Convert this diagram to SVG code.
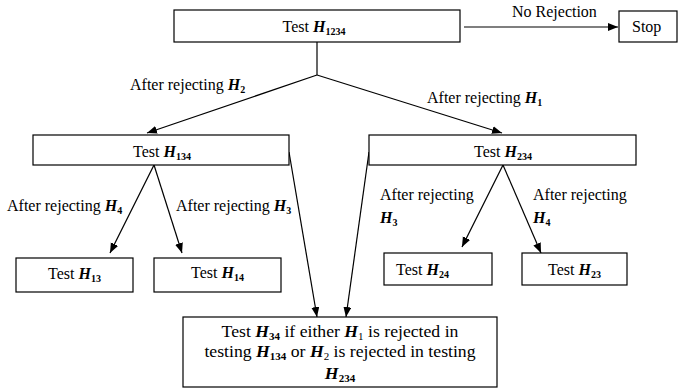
<svg xmlns="http://www.w3.org/2000/svg" width="679" height="389" viewBox="0 0 679 389">
  <style>
    text { font-family: "Liberation Serif", "Times New Roman", serif; font-size: 16px; fill: #000; }
    .c { text-anchor: middle; }
    .h { font-weight: bold; font-style: italic; }
    .s { font-weight: bold; font-size: 10px; }
    .big { font-size: 17.7px; }
    .big .s, .big .n { font-size: 11px; }
    .box { fill: #fff; stroke: #000; stroke-width: 1.2; }
    .ln { fill: none; stroke: #000; stroke-width: 1.2; }
  </style>
  <defs>
    <marker id="arrow" markerUnits="userSpaceOnUse" markerWidth="11" markerHeight="9" refX="10" refY="4" orient="auto">
      <path d="M0,0 L10,4 L0,8 z" fill="#000"/>
    </marker>
  </defs>

  <!-- connectors and their labels -->
  <g id="connectors">
    <line class="ln" x1="464" y1="27" x2="618" y2="27" marker-end="url(#arrow)"/>
    <line class="ln" x1="317" y1="42" x2="317" y2="75"/>
    <line class="ln" x1="317" y1="75" x2="147" y2="133" marker-end="url(#arrow)"/>
    <line class="ln" x1="317" y1="75" x2="502" y2="133" marker-end="url(#arrow)"/>
    <line class="ln" x1="154" y1="165" x2="110" y2="253" marker-end="url(#arrow)"/>
    <line class="ln" x1="154" y1="165" x2="182" y2="253" marker-end="url(#arrow)"/>
    <line class="ln" x1="503" y1="165" x2="462" y2="247" marker-end="url(#arrow)"/>
    <line class="ln" x1="503" y1="165" x2="541" y2="253" marker-end="url(#arrow)"/>
    <line class="ln" x1="289" y1="152" x2="317" y2="317" marker-end="url(#arrow)"/>
    <line class="ln" x1="369" y1="152" x2="346" y2="317" marker-end="url(#arrow)"/>
    <text x="512" y="17">No Rejection</text>
    <text x="130" y="90">After rejecting <tspan class="h">H</tspan><tspan class="s" dy="3">2</tspan></text>
    <text x="427" y="103">After rejecting <tspan class="h">H</tspan><tspan class="s" dy="3">1</tspan></text>
    <text x="7" y="211">After rejecting <tspan class="h">H</tspan><tspan class="s" dy="3">4</tspan></text>
    <text x="176" y="211">After rejecting <tspan class="h">H</tspan><tspan class="s" dy="3">3</tspan></text>
    <text x="380" y="200">After rejecting</text>
    <text x="380" y="223"><tspan class="h">H</tspan><tspan class="s" dy="3">3</tspan></text>
    <text x="533" y="200">After rejecting</text>
    <text x="533" y="223"><tspan class="h">H</tspan><tspan class="s" dy="3">4</tspan></text>
  </g>

  <g id="test-h1234">
    <rect class="box" x="174" y="10" width="286" height="32"/>
    <text class="c" x="314" y="32">Test <tspan class="h">H</tspan><tspan class="s" dy="3">1234</tspan></text>
  </g>

  <g id="stop">
    <rect class="box" x="619" y="11" width="58" height="31"/>
    <text x="632" y="32">Stop</text>
  </g>

  <g id="test-h134">
    <rect class="box" x="33" y="135" width="256" height="30"/>
    <text class="c" x="162" y="157">Test <tspan class="h">H</tspan><tspan class="s" dy="3">134</tspan></text>
  </g>

  <g id="test-h234">
    <rect class="box" x="369" y="135" width="267" height="30"/>
    <text class="c" x="503" y="157">Test <tspan class="h">H</tspan><tspan class="s" dy="3">234</tspan></text>
  </g>

  <g id="test-h13">
    <rect class="box" x="16" y="258" width="117" height="34"/>
    <text class="c" x="74.5" y="279">Test <tspan class="h">H</tspan><tspan class="s" dy="3">13</tspan></text>
  </g>

  <g id="test-h14">
    <rect class="box" x="154" y="258" width="127" height="34"/>
    <text class="c" x="217.5" y="278">Test <tspan class="h">H</tspan><tspan class="s" dy="3">14</tspan></text>
  </g>

  <g id="test-h24">
    <rect class="box" x="384" y="253" width="108" height="32"/>
    <text x="396" y="275">Test <tspan class="h">H</tspan><tspan class="s" dy="3">24</tspan></text>
  </g>

  <g id="test-h23">
    <rect class="box" x="522" y="253" width="105" height="32"/>
    <text class="c" x="574.5" y="275">Test <tspan class="h">H</tspan><tspan class="s" dy="3">23</tspan></text>
  </g>

  <g id="test-h34">
    <rect class="box" x="183" y="317" width="314" height="70"/>
    <text class="c big" x="340" y="337">Test <tspan class="h">H</tspan><tspan class="s" dy="2.5">34</tspan><tspan dy="-2.5"> if either </tspan><tspan class="h">H</tspan><tspan class="n" dy="2.5">1</tspan><tspan dy="-2.5"> is rejected in</tspan></text>
    <text class="c big" x="340" y="357">testing <tspan class="h">H</tspan><tspan class="s" dy="2.5">134</tspan><tspan dy="-2.5"> or </tspan><tspan class="h">H</tspan><tspan class="n" dy="2.5">2</tspan><tspan dy="-2.5"> is rejected in testing</tspan></text>
    <text class="c big" x="340" y="379"><tspan class="h">H</tspan><tspan class="s" dy="2.5">234</tspan></text>
  </g>
</svg>
